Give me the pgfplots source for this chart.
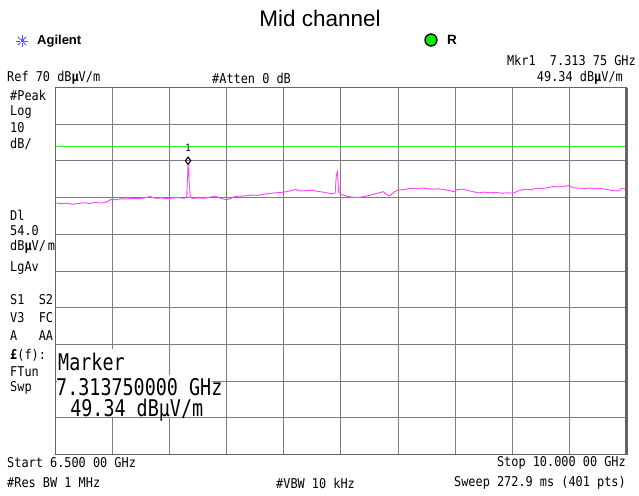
\documentclass[border=0pt]{standalone}
\usepackage{pgfplots}
\pgfplotsset{compat=1.18}
\usepackage{fontspec}
\setmainfont{Liberation Sans}
\newfontfamily\af{DejaVu Sans Mono}[FakeStretch=0.88]
\newfontfamily\bigf{DejaVu Sans Mono}[FakeStretch=0.8]
\definecolor{trace}{RGB}{255,64,255}
\definecolor{dl}{RGB}{40,240,40}
\definecolor{gridc}{RGB}{125,125,125}
\definecolor{frame}{RGB}{100,100,100}
\definecolor{agblue}{RGB}{90,90,255}
\newcommand{\sm}{\af\fontsize{13.5}{14}\selectfont}
\newcommand{\bg}{\bigf\fontsize{23}{24}\selectfont}

\pgfplotstableread{
f v
6.500 38.6
6.535 38.3
6.570 38.5
6.605 38.2
6.640 38.4
6.675 38.6
6.710 38.4
6.745 38.7
6.780 38.5
6.815 38.8
6.840 39.5
6.870 39.4
6.905 39.7
6.940 39.6
6.975 39.8
7.010 39.7
7.045 39.9
7.080 40.3
7.115 39.8
7.150 39.9
7.185 39.7
7.220 39.9
7.255 40.0
7.290 39.8
7.305 40.2
7.31375 49.34
7.320 44.0
7.3275 40.1
7.340 39.8
7.375 39.9
7.410 39.8
7.445 40.1
7.480 40.4
7.500 40.0
7.530 39.6
7.550 39.4
7.570 39.7
7.600 40.3
7.635 40.4
7.670 40.5
7.705 40.7
7.740 40.6
7.775 40.9
7.810 41.1
7.845 41.3
7.880 41.4
7.915 41.6
7.950 42.0
7.975 42.2
8.000 41.8
8.035 41.9
8.070 42.0
8.105 41.7
8.140 41.5
8.175 41.2
8.200 41.0
8.215 41.3
8.222 46.2
8.2285 47.1
8.236 41.5
8.250 40.9
8.285 40.4
8.320 40.1
8.355 40.0
8.390 40.3
8.425 40.6
8.460 41.0
8.490 41.4
8.510 41.6
8.530 40.8
8.550 40.5
8.575 41.5
8.600 42.1
8.635 42.2
8.670 42.5
8.705 42.4
8.740 42.6
8.775 42.5
8.810 42.3
8.845 42.4
8.880 42.2
8.915 41.9
8.940 41.6
8.965 42.2
8.990 42.3
9.025 42.0
9.060 41.6
9.095 41.3
9.130 41.5
9.165 41.3
9.200 41.4
9.235 41.2
9.270 41.3
9.305 41.2
9.340 41.9
9.375 42.3
9.410 42.1
9.445 42.5
9.480 42.4
9.515 42.7
9.550 43.0
9.585 42.9
9.620 43.1
9.645 43.3
9.670 42.7
9.705 42.6
9.740 42.5
9.775 42.6
9.810 42.4
9.845 42.5
9.880 42.2
9.915 41.9
9.950 41.8
9.970 42.5
10.000 42.3
}\tracedata

\begin{document}
\begin{tikzpicture}
\useasboundingbox (0pt,0pt) rectangle (639pt,-495pt);
\begin{axis}[at={(55.3pt,-454.5pt)}, anchor=south west, scale only axis,
  width=571.2pt, height=367pt, xmin=6.5, xmax=10, ymin=-30, ymax=70,
  xtick={6.5,6.85,7.2,7.55,7.9,8.25,8.6,8.95,9.3,9.65,10},
  ytick={-30,-20,-10,0,10,20,30,40,50,60,70},
  xticklabels={}, yticklabels={}, major tick length=0pt,
  grid=major, grid style={gridc, line width=0.9pt},
  axis line style={frame, line width=1.3pt}]
\addplot[dl, line width=1.1pt, no marks] coordinates {(6.5,54) (10,54)};
\addplot[trace, line width=0.9pt, no marks] table[x=f,y=v] {\tracedata};
\addplot[only marks, mark=diamond, mark size=3.6pt, mark options={draw=black, fill=white, line width=1.1pt, yshift=2.6pt}] coordinates {(7.31375,49.34)};
\node[font=\af\fontsize{10}{10}\selectfont, inner sep=0pt] at (axis cs:7.31375,49.34) [yshift=15pt] {1};
\end{axis}
\begin{scope}[x=1pt,y=-1pt]
\draw[frame, line width=2.6pt] (626.5,87.5) -- (626.5,454.5);
% title
\node[font=\fontsize{22.5}{24}\selectfont, inner sep=0pt] at (320,18) {Mid channel};
% Agilent logo
\foreach \a in {0,45,...,315} {\draw[agblue, line width=0.9pt] (22,41) ++(\a:2pt) -- ++(\a:4pt);}
\fill[agblue] (20.5,39.5) rectangle (23.5,42.5);
\node[font=\bfseries\fontsize{13}{14}\selectfont, anchor=west, inner sep=0pt] at (37,41) {Agilent};
\filldraw[fill={rgb,255:red,0;green,235;blue,0}, draw=black, line width=1.3pt] (431,40) circle (6pt);
\node[font=\bfseries\fontsize{13.5}{14}\selectfont, anchor=west, inner sep=0pt] at (447,40) {R};
% header
\node[font=\sm, anchor=east, inner sep=0pt] at (636,60) {Mkr1\ \ 7.313 75 GHz};
\node[font=\sm, anchor=west, inner sep=0pt] at (7,78) {Ref 70 dB{\bfseries µ}V/m};
\node[font=\sm, anchor=west, inner sep=0pt] at (212,78) {\#Atten 0 dB};
\node[font=\sm, anchor=east, inner sep=0pt] at (623,78) {49.34 dB{\bfseries µ}V/m};
% left column
\foreach \t/\y in {\#Peak/95, Log/112, 10/128, Dl/215, 54.0/231, LgAv/268, S1\ \ S2/300, V3\ \ FC/318, A\ \ \ AA/336, FTun/372, Swp/388}
  {\node[font=\sm, anchor=west, inner sep=0pt] at (10,\y) {\t};}
\node[font=\sm, anchor=west, inner sep=0pt] at (10,144) {dB/};
\node[font=\sm, anchor=west, inner sep=0pt] at (10,247) {dB{\bfseries µ}V/\hspace{2pt}m};
\node[font=\sm, anchor=west, inner sep=0pt] at (10,355) {{\bfseries £}(f):};
% marker box
\fill[white] (57,349) rectangle (125,375);
\fill[white] (57,375) rectangle (212,398);
\fill[white] (61,398) rectangle (196,417);
\node[font=\bg, anchor=west, inner sep=0pt] at (58,362) {Marker};
\node[font=\bg, anchor=west, inner sep=0pt] at (56,387) {7.313750000 GHz};
\node[font=\bg, anchor=west, inner sep=0pt] at (59,410) {\ 49.34 dBµV/m};
% footer
\node[font=\sm, anchor=west, inner sep=0pt] at (7,463) {Start 6.500 00 GHz};
\node[font=\sm, anchor=east, inner sep=0pt] at (626,463) {Stop 10.000 00 GHz};
\node[font=\sm, anchor=west, inner sep=0pt] at (7,483) {\#Res BW 1 MHz};
\node[font=\sm, anchor=west, inner sep=0pt] at (276,483) {\#VBW 10 kHz};
\node[font=\sm, anchor=east, inner sep=0pt] at (626,483) {Sweep 272.9 ms (401 pts)};
\end{scope}
\end{tikzpicture}
\end{document}
